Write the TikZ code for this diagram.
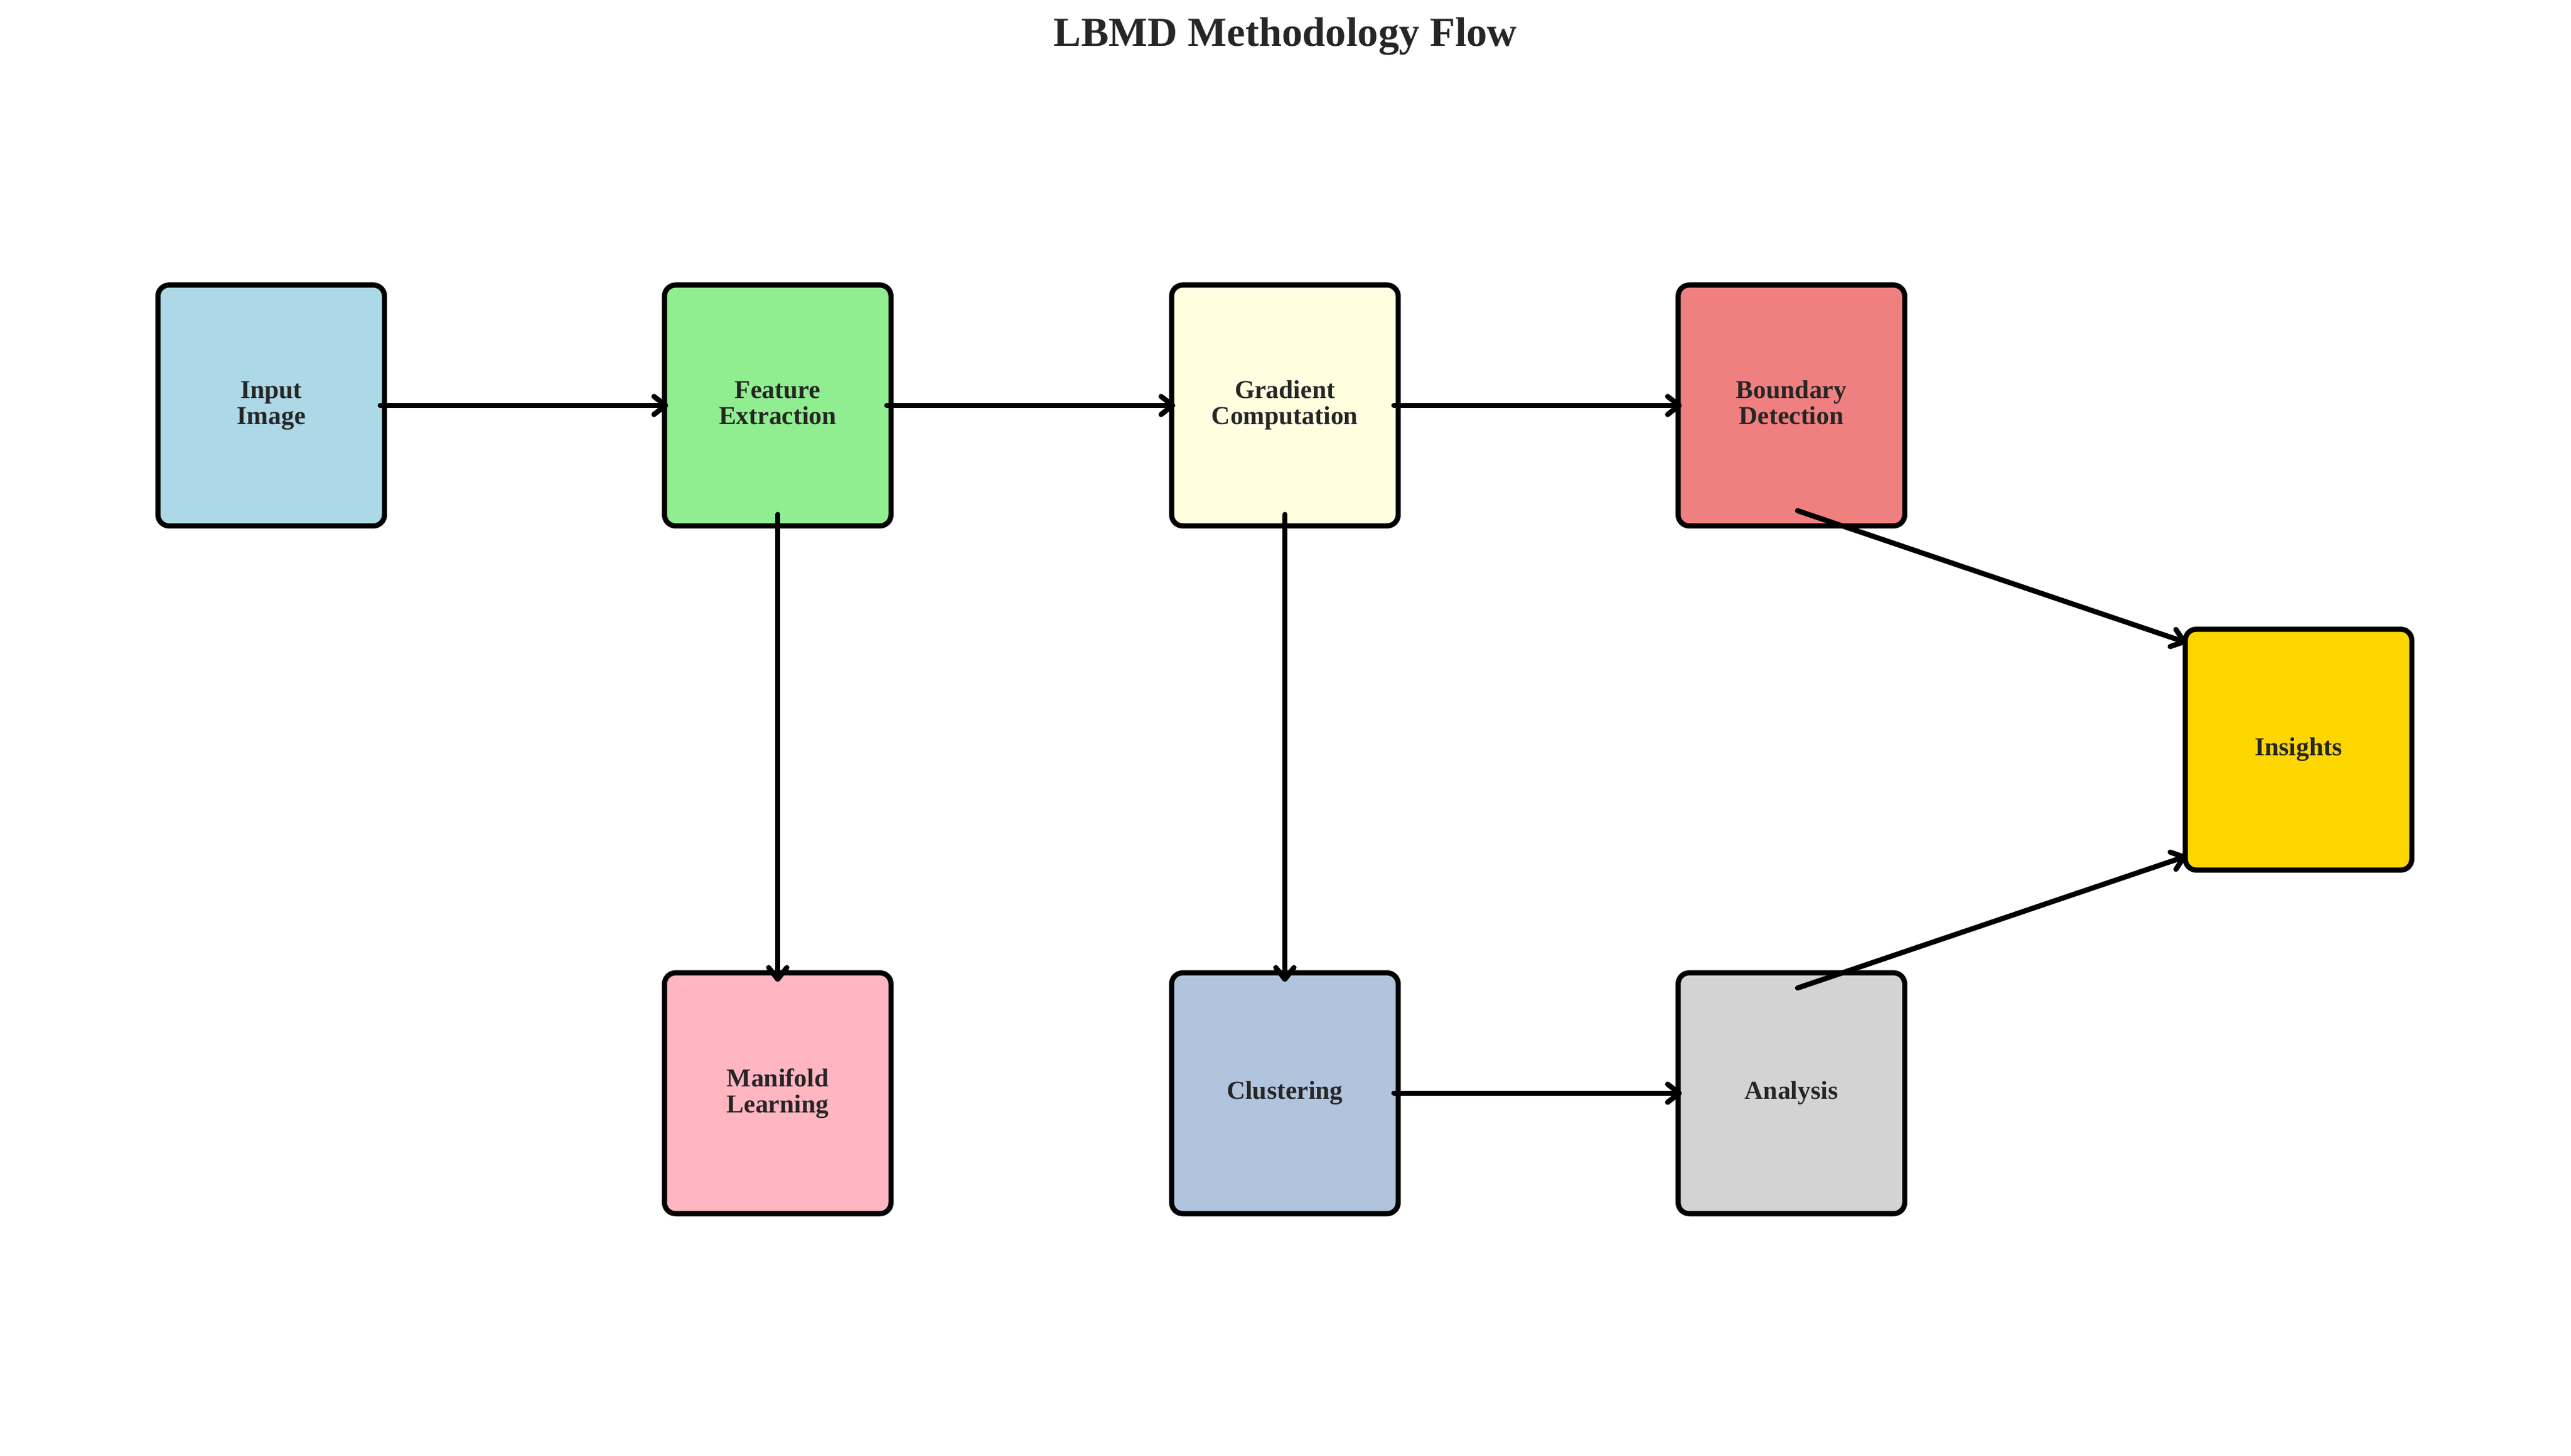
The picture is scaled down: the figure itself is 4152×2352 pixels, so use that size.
\documentclass[tikz,border=0pt]{standalone}
\usepackage{fontspec}
\setmainfont{Liberation Serif}
\usetikzlibrary{arrows.meta,calc}
\definecolor{txt}{RGB}{38,38,38}
\definecolor{cInput}{HTML}{ADD8E6}
\definecolor{cFeature}{HTML}{90EE90}
\definecolor{cGradient}{HTML}{FFFFE0}
\definecolor{cBoundary}{HTML}{F08080}
\definecolor{cManifold}{HTML}{FFB6C1}
\definecolor{cCluster}{HTML}{B0C4DE}
\definecolor{cAnalysis}{HTML}{D3D3D3}
\definecolor{cInsights}{HTML}{FFD700}
\newcommand{\lstrut}{\rule[-0.22em]{0pt}{0.91em}}
\begin{document}
\begin{tikzpicture}[x=0.24pt,y=-0.24pt,
  box/.style={draw=black, line width=2pt, rounded corners=4.3pt,
    minimum width=87.8pt, minimum height=93.4pt, inner sep=0pt, outer sep=0pt,
    align=center, text=txt, font=\bfseries\fontsize{10}{10.1}\selectfont},
  flow/.style={draw=black, line width=2pt, line cap=round,
    -{Straight Barb[length=4.5pt,width=7pt,round]}},
  titletext/.style={text=txt, font=\bfseries\fontsize{16}{19}\selectfont, anchor=base}]
\useasboundingbox (0,0) rectangle (4152,2352);
\node[titletext] (title) at (2076,75) {LBMD Methodology Flow};
\node[box, fill=cInput]    (in) at (438,655)  {\lstrut Input\\\lstrut Image};
\node[box, fill=cFeature]  (fe) at (1256,655) {\lstrut Feature\\\lstrut Extraction};
\node[box, fill=cGradient] (gr) at (2075,655) {\lstrut Gradient\\\lstrut Computation};
\node[box, fill=cBoundary] (bd) at (2893,655) {\lstrut Boundary\\\lstrut Detection};
\node[box, fill=cManifold] (ml) at (1256,1766) {\lstrut Manifold\\\lstrut Learning};
\node[box, fill=cCluster]  (cl) at (2075,1766) {\lstrut Clustering};
\node[box, fill=cAnalysis] (an) at (2893,1766) {\lstrut Analysis};
\node[box, fill=cInsights] (is) at (3712,1211) {\lstrut Insights};
\draw[flow] ($(in)+(176,0)$) -- ($(fe)+(-177,0)$);
\draw[flow] ($(fe)+(176,0)$) -- ($(gr)+(-177,0)$);
\draw[flow] ($(gr)+(176,0)$) -- ($(bd)+(-177,0)$);
\draw[flow] ($(cl)+(176,0)$) -- ($(an)+(-177,0)$);
\draw[flow] ($(fe)+(0,176)$) -- ($(ml)+(0,-180)$);
\draw[flow] ($(gr)+(0,176)$) -- ($(cl)+(0,-180)$);
\draw[flow] ($(bd)+(10,170)$) -- ($(is)+(-181,-173)$);
\draw[flow] ($(an)+(10,-170)$) -- ($(is)+(-181,172)$);
\end{tikzpicture}
\end{document}
